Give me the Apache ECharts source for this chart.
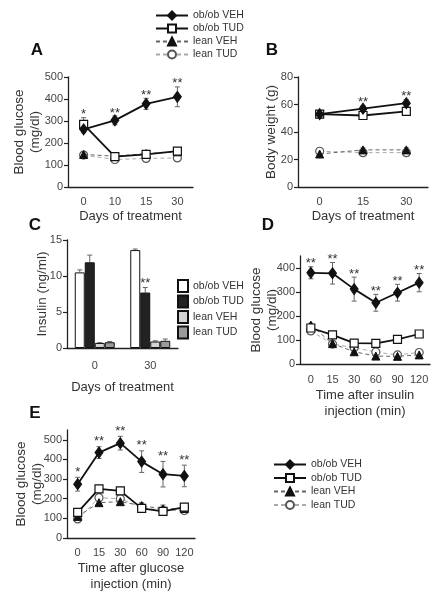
<!DOCTYPE html>
<html>
<head>
<meta charset="utf-8">
<script src="https://cdn.jsdelivr.net/npm/echarts@6/dist/echarts.min.js"></script>
<style>html,body{margin:0;padding:0;background:#fff}#c{width:439px;height:599px}</style>
</head>
<body>
<div id="c"></div>
<script>
// ---------- data ----------
const groups = ['ob/ob VEH', 'ob/ob TUD', 'lean VEH', 'lean TUD'];

// Panel A: blood glucose (mg/dl) vs days of treatment
const daysA = ['0', '10', '15', '30'];
const A_obVEH = [262, 303, 378, 410];
const A_obVEH_err = [15, 20, 25, 45];
const A_obTUD = [285, 138, 148, 163];
const A_obTUD_err = [30, 8, 10, 12];
const A_leanVEH = [148, 140, 152, 160];
const A_leanVEH_err = [6, 6, 8, 8];
const A_leanTUD = [145, 125, 130, 132];
const A_leanTUD_err = [6, 6, 6, 6];
const A_sig = ['*', '**', '**', '**'];
const A_ticks = [0, 100, 200, 300, 400, 500];

// Panel B: body weight (g)
const daysB = ['0', '15', '30'];
const B_obVEH = [53, 57, 61];
const B_obVEH_err = [1.5, 2, 2.5];
const B_obTUD = [53, 52, 55];
const B_obTUD_err = [1.5, 1.5, 2];
const B_leanVEH = [24, 27, 27];
const B_leanVEH_err = [1, 1.5, 1.5];
const B_leanTUD = [26, 25, 25];
const B_leanTUD_err = [1, 1, 1];
const B_sig = ['', '**', '**'];
const B_ticks = [0, 20, 40, 60, 80];

// Panel C: insulin (ng/ml)
const daysC = ['0', '30'];
const C_obVEH = [10.5, 13.6];
const C_obVEH_err = [0.35, 0.15];
const C_obTUD = [11.9, 7.7];
const C_obTUD_err = [1.0, 0.7];
const C_leanVEH = [0.7, 0.9];
const C_leanVEH_err = [0.05, 0.1];
const C_leanTUD = [0.8, 1.0];
const C_leanTUD_err = [0.1, 0.25];
const C_sig = ['', '**'];
const C_ticks = [0, 5, 10, 15];

// Panel D: insulin tolerance
const minsD = ['0', '15', '30', '60', '90', '120'];
const D_obVEH = [380, 378, 312, 255, 297, 339];
const D_obVEH_err = [25, 45, 50, 35, 35, 38];
const D_obTUD = [150, 121, 87, 86, 103, 125];
const D_obTUD_err = [12, 15, 10, 10, 10, 12];
const D_leanVEH = [162, 85, 51, 33, 32, 38];
const D_leanVEH_err = [8, 8, 5, 5, 5, 5];
const D_leanTUD = [138, 83, 68, 50, 38, 48];
const D_leanTUD_err = [8, 8, 6, 5, 5, 5];
const D_sig = ['**', '**', '**', '**', '**', '**'];
const D_ticks = [0, 100, 200, 300, 400];

// Panel E: glucose tolerance
const minsE = ['0', '15', '30', '60', '90', '120'];
const E_obVEH = [274, 435, 483, 389, 325, 316];
const E_obVEH_err = [35, 30, 35, 55, 65, 55];
const E_obTUD = [131, 250, 240, 151, 136, 157];
const E_obTUD_err = [15, 12, 12, 10, 10, 10];
const E_leanVEH = [110, 180, 185, 165, 148, 150];
const E_leanVEH_err = [15, 12, 12, 15, 20, 10];
const E_leanTUD = [97, 205, 200, 155, 140, 140];
const E_leanTUD_err = [10, 20, 15, 10, 10, 10];
const E_sig = ['*', '**', '**', '**', '**', '**'];
const E_ticks = [0, 100, 200, 300, 400, 500];

// ---------- styling ----------
const FONT = "'Liberation Sans', Arial, Helvetica, sans-serif";
const AX = '#222';
const TXT = '#333';

const lineStyles = {
  'ob/ob VEH': { symbol: 'diamond', symbolSize: [8, 11], lineStyle: { color: '#111', width: 1.8, type: 'solid' }, itemStyle: { color: '#111', borderColor: '#111', borderWidth: 1 }, z: 6 },
  'ob/ob TUD': { symbol: 'rect', symbolSize: 8, lineStyle: { color: '#111', width: 1.8, type: 'solid' }, itemStyle: { color: '#fff', borderColor: '#111', borderWidth: 1.2 }, z: 5 },
  'lean VEH': { symbol: 'triangle', symbolSize: 8, lineStyle: { color: '#666', width: 1, type: [4, 3] }, itemStyle: { color: '#111', borderColor: '#111', borderWidth: 1 }, z: 4 },
  'lean TUD': { symbol: 'circle', symbolSize: 8, lineStyle: { color: '#aaa', width: 1, type: [4, 3] }, itemStyle: { color: '#fff', borderColor: '#555', borderWidth: 1.2 }, z: 3 }
};
const barColors = ['#ffffff', '#222222', '#d4d4d4', '#9a9a9a'];
const BAR_W = 10;

const grids = [
  { left: 68, top: 77, width: 125, height: 110 },   // A
  { left: 298, top: 77, width: 130, height: 110 },  // B
  { left: 67, top: 240, width: 111, height: 108 },  // C
  { left: 300, top: 256, width: 130, height: 108 }, // D
  { left: 67, top: 430, width: 128, height: 108 }   // E
];

function xAxis(gi, data, name, nameGap, margin) {
  return {
    type: 'category', gridIndex: gi, data: data, boundaryGap: true,
    axisLine: { lineStyle: { color: AX, width: 1.3 } },
    axisTick: { length: 4, lineStyle: { color: AX, width: 1.2 } },
    axisLabel: { color: '#444', fontFamily: FONT, fontSize: 11, margin: margin, interval: 0 },
    name: name, nameLocation: 'middle', nameGap: nameGap,
    nameTextStyle: { fontFamily: FONT, fontSize: 13, color: TXT, lineHeight: 16, verticalAlign: 'top' }
  };
}
function yAxis(gi, max, ticks, name, nameGap) {
  return {
    type: 'value', gridIndex: gi, min: 0, max: max,
    axisLine: { show: true, lineStyle: { color: AX, width: 1.3 } },
    axisTick: { show: true, length: 4, lineStyle: { color: AX, width: 1.2 }, customValues: ticks },
    axisLabel: { color: '#444', fontFamily: FONT, fontSize: 11, margin: 5, customValues: ticks },
    splitLine: { show: false },
    name: name, nameLocation: 'middle', nameGap: nameGap, nameRotate: 90, nameMoveOverlap: false,
    nameTextStyle: { fontFamily: FONT, fontSize: 13.5, color: TXT, lineHeight: 16 }
  };
}

const series = [];

function errRender(offset, both) {
  return function (params, api) {
    const x = api.value(0), m = api.value(1), e = api.value(2);
    const hi = api.coord([x, m + e]);
    const lo = api.coord([x, both ? m - e : m]);
    const cx = hi[0] + offset;
    const st = { stroke: '#666', lineWidth: 1 };
    const ch = [
      { type: 'line', shape: { x1: cx, y1: hi[1], x2: cx, y2: lo[1] }, style: st },
      { type: 'line', shape: { x1: cx - 2.5, y1: hi[1], x2: cx + 2.5, y2: hi[1] }, style: st }
    ];
    if (both) ch.push({ type: 'line', shape: { x1: cx - 2.5, y1: lo[1], x2: cx + 2.5, y2: lo[1] }, style: st });
    return { type: 'group', children: ch };
  };
}

function addErr(gi, means, errs, offset, both, z) {
  series.push({
    type: 'custom', xAxisIndex: gi, yAxisIndex: gi, z: z, silent: true,
    data: means.map((m, i) => [i, m, errs[i]]),
    renderItem: errRender(offset, both)
  });
}

function addLines(gi, sets) {
  sets.forEach((s, k) => {
    const st = lineStyles[groups[k]];
    addErr(gi, s[0], s[1], 0, true, 1);
    series.push({
      type: 'line', name: groups[k], xAxisIndex: gi, yAxisIndex: gi,
      data: s[0], symbol: st.symbol, symbolSize: st.symbolSize, showSymbol: true,
      lineStyle: st.lineStyle, itemStyle: st.itemStyle, z: st.z, silent: true
    });
  });
}

function addSig(gi, labels, sets, offset, gap) {
  const tops = labels.map((_, i) => Math.max.apply(null, sets.map(s => s[0][i] + s[1][i])));
  series.push({
    type: 'custom', xAxisIndex: gi, yAxisIndex: gi, z: 10, silent: true, clip: false,
    data: tops.map((t, i) => [i, t]),
    renderItem: function (params, api) {
      const p = api.coord([api.value(0), api.value(1)]);
      return {
        type: 'text',
        style: { text: labels[params.dataIndex], x: p[0] + offset, y: p[1] - gap, align: 'center', verticalAlign: 'middle', fontFamily: FONT, fontSize: 13, fill: TXT }
      };
    }
  });
}

// A
const setsA = [[A_obVEH, A_obVEH_err], [A_obTUD, A_obTUD_err], [A_leanVEH, A_leanVEH_err], [A_leanTUD, A_leanTUD_err]];
addLines(0, setsA);
addSig(0, A_sig, setsA, 0, 3);
// B
const setsB = [[B_obVEH, B_obVEH_err], [B_obTUD, B_obTUD_err], [B_leanVEH, B_leanVEH_err], [B_leanTUD, B_leanTUD_err]];
addLines(1, setsB);
addSig(1, B_sig, setsB, 0, 3);
// C bars
const setsC = [[C_obVEH, C_obVEH_err], [C_obTUD, C_obTUD_err], [C_leanVEH, C_leanVEH_err], [C_leanTUD, C_leanTUD_err]];
setsC.forEach((s, k) => {
  series.push({
    type: 'bar', name: groups[k] + ' ', xAxisIndex: 2, yAxisIndex: 2, data: s[0],
    barWidth: BAR_W, barGap: '0%', silent: true, z: 2,
    itemStyle: { color: barColors[k], borderColor: '#111', borderWidth: 1 }
  });
  addErr(2, s[0], s[1], (k - 1.5) * BAR_W, false, 1);
});
addSig(2, C_sig, [setsC[1]], -0.5 * BAR_W, 4);
// D
const setsD = [[D_obVEH, D_obVEH_err], [D_obTUD, D_obTUD_err], [D_leanVEH, D_leanVEH_err], [D_leanTUD, D_leanTUD_err]];
addLines(3, setsD);
addSig(3, D_sig, setsD, 0, 3);
// E
const setsE = [[E_obVEH, E_obVEH_err], [E_obTUD, E_obTUD_err], [E_leanVEH, E_leanVEH_err], [E_leanTUD, E_leanTUD_err]];
addLines(4, setsE);
addSig(4, E_sig, setsE, 0, 5);

const legendText = { fontFamily: FONT, fontSize: 10.5, color: TXT };
const option = {
  animation: false,
  backgroundColor: '#fff',
  grid: grids.map(g => Object.assign({ containLabel: false }, g)),
  xAxis: [
    xAxis(0, daysA, 'Days of treatment', 21, 9),
    xAxis(1, daysB, 'Days of treatment', 21, 9),
    xAxis(2, daysC, 'Days of treatment', 31, 12),
    xAxis(3, minsD, 'Time after insulin\ninjection (min)', 23, 10),
    xAxis(4, minsE, 'Time after glucose\ninjection (min)', 22, 9)
  ],
  yAxis: [
    yAxis(0, 500, A_ticks, 'Blood glucose\n(mg/dl)', 25),
    yAxis(1, 80, B_ticks, 'Body weight (g)', 19),
    yAxis(2, 15, C_ticks, 'Insulin (ng/ml)', 17),
    yAxis(3, 450, D_ticks, 'Blood glucose\n(mg/dl)', 20),
    yAxis(4, 550, E_ticks, 'Blood glucose\n(mg/dl)', 22)
  ],
  legend: [
    { orient: 'vertical', left: 150, top: 5, itemWidth: 32, itemHeight: 10, itemGap: 2, data: groups, textStyle: legendText, selectedMode: false },
    { orient: 'vertical', left: 268, top: 454, itemWidth: 32, itemHeight: 10, itemGap: 2.5, data: groups, textStyle: legendText, selectedMode: false },
    { orient: 'vertical', left: 172, top: 274, itemWidth: 10, itemHeight: 12, itemGap: 1.5, icon: 'rect', data: groups.map(g => g + ' '), textStyle: legendText, selectedMode: false }
  ],
  graphic: [
    ['A', 37, 50], ['B', 272, 50], ['C', 35, 225], ['D', 268, 225], ['E', 35, 413]
  ].map(p => ({
    type: 'text', x: p[1], y: p[2],
    style: { text: p[0], fontFamily: FONT, fontWeight: 'bold', fontSize: 17, fill: '#111', align: 'center', verticalAlign: 'middle' }
  })),
  series: series
};

const chart = echarts.init(document.getElementById('c'), null, { renderer: 'canvas' });
chart.setOption(option);
</script>
</body>
</html>
